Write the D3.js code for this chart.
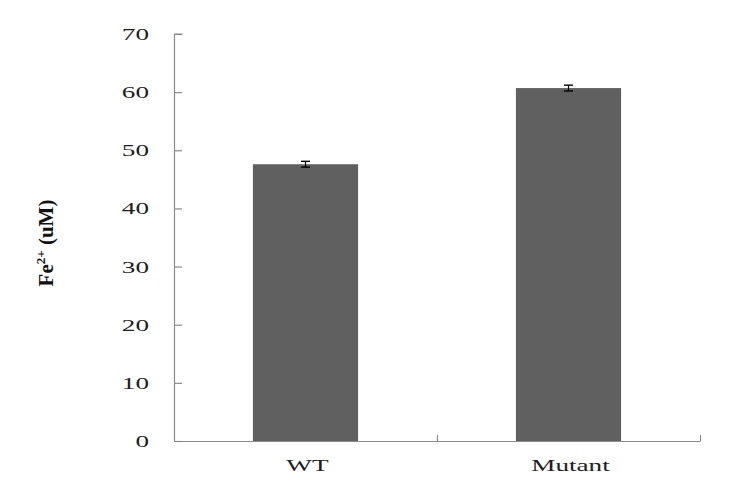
<!DOCTYPE html>
<html><head><meta charset="utf-8">
<script src="https://cdn.jsdelivr.net/npm/d3@7"></script>
<style>body{margin:0;background:#fff}svg{display:block}</style>
</head><body>
<svg id="c" width="731" height="493"></svg>
<script>
const categories = ["WT", "Mutant"];
const values = [47.6, 60.7];
const errors = [0.5, 0.5];
const yTicks = [0, 10, 20, 30, 40, 50, 60, 70];

const svg = d3.select("#c");
const mLeft = 174, mRight = 700, mTop = 34, mBottom = 441;
const x = d3.scaleBand().domain(categories).range([mLeft, mRight]).paddingInner(0.6).paddingOuter(0.3);
const y = d3.scaleLinear().domain([0, 70]).range([mBottom, mTop]);
const font = "'Liberation Serif', 'DejaVu Serif', serif";
const axisColor = "#8c8c8c";
const stretch = 1.6;

// bars
svg.selectAll("rect.bar").data(categories).enter().append("rect")
  .attr("class", "bar")
  .attr("x", d => x(d)).attr("width", x.bandwidth())
  .attr("y", (d, i) => y(values[i])).attr("height", (d, i) => y(0) - y(values[i]))
  .attr("fill", "#606060");

// error bars
const eb = svg.selectAll("g.err").data(categories).enter().append("g").attr("class", "err");
eb.append("line")
  .attr("x1", d => x(d) + x.bandwidth() / 2).attr("x2", d => x(d) + x.bandwidth() / 2)
  .attr("y1", (d, i) => y(values[i] + errors[i])).attr("y2", (d, i) => y(values[i] - errors[i]))
  .attr("stroke", "#000").attr("stroke-width", 1.2);
[1, -1].forEach(s => {
  eb.append("line")
    .attr("x1", d => x(d) + x.bandwidth() / 2 - 4.5).attr("x2", d => x(d) + x.bandwidth() / 2 + 4.5)
    .attr("y1", (d, i) => y(values[i] + s * errors[i])).attr("y2", (d, i) => y(values[i] + s * errors[i]))
    .attr("stroke", "#000").attr("stroke-width", 1.4);
});

// y axis (inward ticks)
const yAxis = d3.axisRight(y).tickValues(yTicks).tickSize(8).tickFormat("");
const gy = svg.append("g").attr("transform", `translate(${mLeft},0)`).call(yAxis);
gy.select(".domain").attr("d", `M8.5,${mTop}H0.5V${mBottom}`).attr("stroke", axisColor).attr("stroke-width", 1.2);
gy.selectAll(".tick line").attr("stroke", axisColor).attr("stroke-width", 1.2);

svg.append("g").selectAll("text").data(yTicks).enter().append("text")
  .attr("transform", d => `translate(149,${y(d)}) scale(${stretch},1)`)
  .attr("dy", "0.35em")
  .attr("text-anchor", "end").attr("font-family", font).attr("font-size", 17)
  .attr("fill", "#1e1e1e").text(d => d);

// x axis
svg.append("line").attr("x1", mLeft).attr("x2", mRight).attr("y1", mBottom + 0.5).attr("y2", mBottom + 0.5)
  .attr("stroke", axisColor).attr("stroke-width", 1.2);
const boundaries = categories.map(c => x(c) + x.bandwidth() + x.step() * x.paddingInner() / 2);
svg.selectAll("line.xt").data(boundaries).enter().append("line").attr("class", "xt")
  .attr("x1", d => Math.round(d) + 0.5).attr("x2", d => Math.round(d) + 0.5)
  .attr("y1", mBottom + 0.5).attr("y2", mBottom - 6)
  .attr("stroke", axisColor).attr("stroke-width", 1.2);

svg.selectAll("text.xl").data(categories).enter().append("text").attr("class", "xl")
  .attr("transform", d => `translate(${x(d) + x.bandwidth() / 2 + 2},471) scale(${stretch},1)`)
  .attr("text-anchor", "middle").attr("font-family", font).attr("font-size", 17)
  .attr("fill", "#1e1e1e").text(d => d);

// y label
const yl = svg.append("text").attr("transform", "translate(53,243) rotate(-90)")
  .attr("text-anchor", "middle").attr("font-family", font).attr("font-weight", "bold")
  .attr("font-size", 21).attr("fill", "#111");
yl.append("tspan").text("Fe");
yl.append("tspan").attr("font-size", 13).attr("dy", -8).text("2+");
yl.append("tspan").attr("dy", 8).text(" (uM)");
</script>
</body></html>
